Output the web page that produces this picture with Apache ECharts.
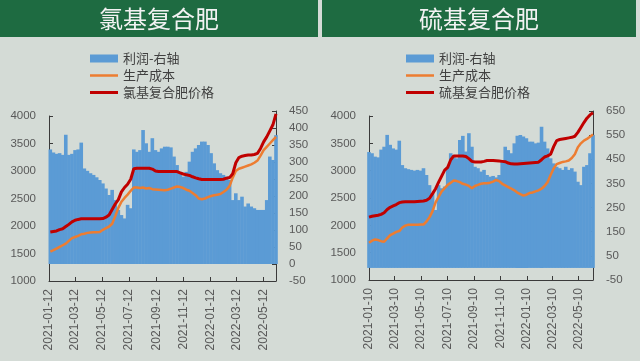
<!DOCTYPE html>
<html><head><meta charset="utf-8">
<script src="https://cdn.jsdelivr.net/npm/echarts@6/dist/echarts.min.js"></script>
<style>html,body{margin:0;padding:0;background:#d4dbd6;}#c{width:640px;height:361px;}</style>
</head><body><div id="c"></div>
<script>
// ---------- Left panel: 氯基复合肥 ----------
var leftTicks = ['2021-01-12','2021-03-12','2021-05-12','2021-07-12','2021-09-12','2021-11-12','2022-01-12','2022-03-12','2022-05-12'];
var leftDates = ['2021-01-15','2021-01-22','2021-01-29','2021-02-05','2021-02-12','2021-02-19','2021-02-26','2021-03-05','2021-03-12','2021-03-19','2021-03-26','2021-04-02','2021-04-09','2021-04-16','2021-04-23','2021-04-30','2021-05-07','2021-05-14','2021-05-21','2021-05-28','2021-06-04','2021-06-11','2021-06-18','2021-06-25','2021-07-02','2021-07-09','2021-07-16','2021-07-23','2021-07-30','2021-08-06','2021-08-13','2021-08-20','2021-08-27','2021-09-03','2021-09-10','2021-09-17','2021-09-24','2021-10-01','2021-10-08','2021-10-15','2021-10-22','2021-10-29','2021-11-05','2021-11-12','2021-11-19','2021-11-26','2021-12-03','2021-12-10','2021-12-17','2021-12-24','2021-12-31','2022-01-07','2022-01-14','2022-01-21','2022-01-28','2022-02-04','2022-02-11','2022-02-18','2022-02-25','2022-03-04','2022-03-11','2022-03-18','2022-03-25','2022-04-01','2022-04-08','2022-04-15','2022-04-22','2022-04-29','2022-05-06','2022-05-13','2022-05-20','2022-05-27','2022-06-03','2022-06-10'];
var leftProfit = [337,328,324,326,321,380,321,324,335,337,357,281,274,267,262,255,247,237,222,203,218,188,159,144,134,174,164,337,330,335,394,355,330,370,335,330,340,345,345,343,316,291,271,257,271,301,330,340,350,360,360,350,326,296,276,267,262,257,247,188,208,188,198,169,178,169,164,159,159,159,188,316,306,379];
var leftCost = [1535,1560,1590,1620,1650,1680,1730,1780,1800,1820,1850,1860,1875,1880,1885,1885,1890,1930,1960,1990,2040,2180,2330,2440,2510,2570,2640,2700,2700,2690,2700,2680,2690,2670,2665,2660,2655,2650,2660,2680,2700,2720,2710,2690,2660,2640,2600,2560,2500,2485,2500,2525,2545,2560,2570,2580,2620,2660,2730,2880,3000,3040,3060,3080,3100,3120,3150,3190,3280,3380,3440,3500,3560,3620];
var leftPrice = [1890,1900,1910,1935,1950,1990,2030,2075,2105,2120,2130,2130,2130,2130,2130,2130,2130,2135,2160,2200,2300,2400,2480,2620,2700,2760,2850,3040,3050,3050,3050,3050,3050,3035,3000,2990,2990,2990,2990,2990,2990,2990,2965,2945,2930,2920,2895,2875,2858,2845,2845,2845,2845,2845,2845,2845,2850,2870,2880,2950,3150,3245,3270,3280,3290,3290,3300,3320,3410,3530,3620,3730,3840,4040];

// ---------- Right panel: 硫基复合肥 ----------
var rightTicks = ['2021-01-10','2021-03-10','2021-05-10','2021-07-10','2021-09-10','2021-11-10','2022-01-10','2022-03-10','2022-05-10'];
var rightDates = ['2021-01-10','2021-01-17','2021-01-24','2021-01-31','2021-02-07','2021-02-14','2021-02-21','2021-02-28','2021-03-07','2021-03-14','2021-03-21','2021-03-28','2021-04-04','2021-04-11','2021-04-18','2021-04-25','2021-05-02','2021-05-09','2021-05-16','2021-05-23','2021-05-30','2021-06-06','2021-06-13','2021-06-20','2021-06-27','2021-07-04','2021-07-11','2021-07-18','2021-07-25','2021-08-01','2021-08-08','2021-08-15','2021-08-22','2021-08-29','2021-09-05','2021-09-12','2021-09-19','2021-09-26','2021-10-03','2021-10-10','2021-10-17','2021-10-24','2021-10-31','2021-11-07','2021-11-14','2021-11-21','2021-11-28','2021-12-05','2021-12-12','2021-12-19','2021-12-26','2022-01-02','2022-01-09','2022-01-16','2022-01-23','2022-01-30','2022-02-06','2022-02-13','2022-02-20','2022-02-27','2022-03-06','2022-03-13','2022-03-20','2022-03-27','2022-04-03','2022-04-10','2022-04-17','2022-04-24','2022-05-01','2022-05-08','2022-05-15','2022-05-22','2022-05-29','2022-06-05','2022-06-12'];
var rightProfit = [480,475,461,458,490,502,551,510,495,490,527,426,413,409,406,403,406,403,413,385,343,309,240,343,330,337,419,475,468,454,530,547,482,558,502,419,413,399,406,385,378,381,375,385,447,502,488,475,516,547,551,544,537,523,523,516,519,585,523,495,454,433,419,413,406,419,406,413,399,357,343,419,426,475,551];
var rightCost = [1680,1720,1740,1730,1710,1700,1760,1820,1850,1880,1895,1960,1995,2010,2010,2010,2010,2015,2015,2070,2150,2260,2420,2520,2620,2680,2740,2780,2820,2810,2790,2760,2745,2720,2680,2720,2740,2760,2770,2770,2780,2800,2830,2810,2760,2730,2700,2670,2640,2600,2570,2545,2560,2590,2600,2620,2640,2670,2720,2790,2920,3040,3120,3140,3160,3170,3185,3230,3300,3430,3500,3550,3580,3620,3660];
var rightPrice = [2150,2165,2175,2185,2200,2230,2290,2330,2355,2380,2415,2425,2430,2430,2430,2430,2435,2440,2445,2460,2495,2580,2670,2790,2900,3010,3060,3200,3270,3270,3270,3270,3260,3220,3170,3160,3160,3160,3170,3185,3185,3185,3180,3175,3170,3165,3140,3125,3120,3120,3125,3130,3135,3140,3145,3150,3155,3200,3250,3270,3300,3440,3550,3570,3580,3590,3600,3610,3630,3700,3790,3880,3960,4020,4060];

var rightAxisTicksR = [-50,50,150,250,350,450,550,650];

function ts(s){var p=s.split('-');return Date.UTC(+p[0],+p[1]-1,+p[2]);}
function pairs(dates, vals){return dates.map(function(d,i){return [ts(d), vals[i]];});}
function fmt(v){var d=new Date(v);var m=d.getUTCMonth()+1,dd=d.getUTCDate();return d.getUTCFullYear()+'-'+(m<10?'0':'')+m+'-'+(dd<10?'0':'')+dd;}

var BLUE='#5b9bd5', ORANGE='#ed7d31', RED='#c00000';
var AX='#3a3a3a', LAB='#595959';
var FONT="'Liberation Sans', Arial, sans-serif";
var CJK="'Noto Sans CJK SC', sans-serif";

function xAx(grid, ticks, minD, maxD, visible){
  return {type:'value', gridIndex:grid, min:ts(minD), max:ts(maxD), show:visible, scale:true,
    axisLine:{show:true, onZero:false, lineStyle:{color:AX}},
    axisTick:{show:true, inside:true, length:4, lineStyle:{color:AX}, customValues:ticks.map(ts)},
    axisLabel:{show:true, rotate:90, margin:8, fontSize:12, color:LAB, fontFamily:FONT, customValues:ticks.map(ts), formatter:fmt, hideOverlap:false, showMinLabel:true, showMaxLabel:true},
    splitLine:{show:false}, minorTick:{show:false}};
}
function yAx(grid, pos, min, max, opt){
  var a = {type:'value', gridIndex:grid, position:pos, min:min, max:max,
    axisLine:{show:true, lineStyle:{color:AX}},
    axisTick:{show:true, inside:true, length:4, lineStyle:{color:AX}},
    axisLabel:{fontSize:11.5, color:LAB, fontFamily:FONT, margin:13, formatter:function(v){return String(v);}},
    splitLine:{show:false}};
  if(opt.interval){a.interval=opt.interval;}
  if(opt.custom){a.axisLabel.customValues=opt.custom;a.axisTick.customValues=opt.custom;}
  return a;
}
function leg(left, top, name, h){
  return {orient:'vertical', left:left, top:top, itemWidth:28, itemHeight:h, itemGap:0, itemTextGap:5,
    textStyle:{fontSize:13, color:'#404040', fontFamily:CJK, lineHeight:17},
    data:[{name:name, icon:'rect'}]};
}

var chart = echarts.init(document.getElementById('c'), null, {renderer:'canvas'});
var option = {
  animation:false,
  backgroundColor:'#d4dbd6',
  textStyle:{fontFamily:FONT},
  graphic:[
    {type:'rect', shape:{x:0,y:0,width:318,height:37}, style:{fill:'#1e6b41'}},
    {type:'rect', shape:{x:322,y:0,width:314,height:37}, style:{fill:'#1e6b41'}},
    {type:'text', x:159, y:19, style:{text:'氯基复合肥', fill:'#f2f2f2', font:'24px '+CJK, textAlign:'center', textVerticalAlign:'middle'}},
    {type:'text', x:479, y:19, style:{text:'硫基复合肥', fill:'#f2f2f2', font:'24px '+CJK, textAlign:'center', textVerticalAlign:'middle'}}
  ],
  legend:[
    leg(85, 45, '利润-右轴', 8),
    leg(85, 62, '生产成本', 2.5),
    leg(85, 79, '氯基复合肥价格', 3),
    leg(401, 45, '利润-右轴', 8),
    leg(401, 62, '生产成本', 2.5),
    leg(401, 79, '硫基复合肥价格', 3)
  ],
  grid:[
    {left:49, width:227, top:116, height:165},
    {left:49, width:227, top:111, height:170},
    {left:369, width:224, top:116, height:164},
    {left:369, width:224, top:111, height:169}
  ],
  xAxis:[
    xAx(0, leftTicks, '2021-01-12', '2022-06-10', true),
    xAx(1, leftTicks, '2021-01-12', '2022-06-10', false),
    xAx(2, rightTicks, '2021-01-10', '2022-06-12', true),
    xAx(3, rightTicks, '2021-01-10', '2022-06-12', false)
  ],
  yAxis:[
    yAx(0, 'left', 1000, 4000, {interval:500}),
    yAx(1, 'right', -50, 450, {interval:50}),
    yAx(2, 'left', 1000, 4000, {interval:500}),
    yAx(3, 'right', -50, 650, {custom:rightAxisTicksR})
  ],
  series:[
    {name:'利润-右轴', type:'bar', xAxisIndex:1, yAxisIndex:1, data:pairs(leftDates,leftProfit), barWidth:3.6, itemStyle:{color:BLUE}},
    {name:'利润-右轴', type:'bar', xAxisIndex:3, yAxisIndex:3, data:pairs(rightDates,rightProfit), barWidth:3.6, itemStyle:{color:BLUE}},
    {name:'生产成本', type:'line', xAxisIndex:0, yAxisIndex:0, data:pairs(leftDates,leftCost), symbol:'none', clip:false, lineStyle:{color:ORANGE,width:2.5}, itemStyle:{color:ORANGE}},
    {name:'氯基复合肥价格', type:'line', xAxisIndex:0, yAxisIndex:0, data:pairs(leftDates,leftPrice), symbol:'none', clip:false, lineStyle:{color:RED,width:3}, itemStyle:{color:RED}},
    {name:'生产成本', type:'line', xAxisIndex:2, yAxisIndex:2, data:pairs(rightDates,rightCost), symbol:'none', clip:false, lineStyle:{color:ORANGE,width:2.5}, itemStyle:{color:ORANGE}},
    {name:'硫基复合肥价格', type:'line', xAxisIndex:2, yAxisIndex:2, data:pairs(rightDates,rightPrice), symbol:'none', clip:false, lineStyle:{color:RED,width:3}, itemStyle:{color:RED}}
  ]
};
chart.setOption(option);
</script></body></html>
